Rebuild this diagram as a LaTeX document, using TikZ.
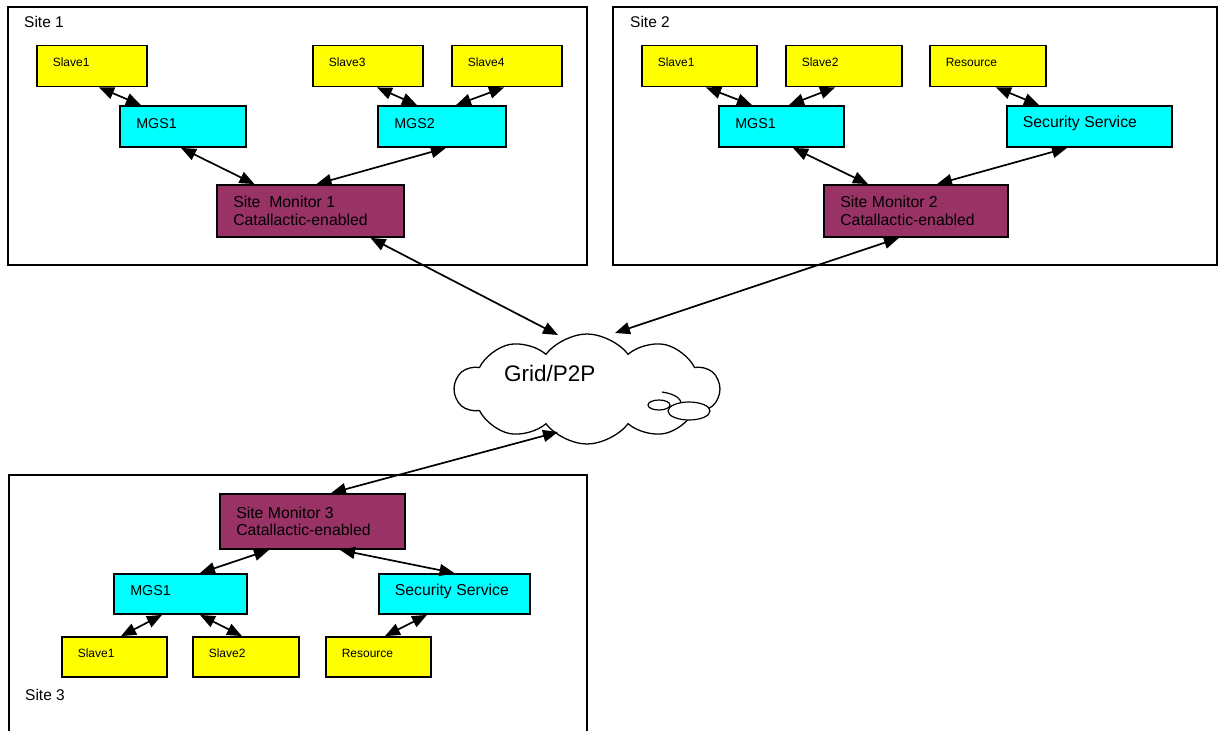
\documentclass[tikz,border=0pt]{standalone}
\usepackage{fontspec}
\setmainfont{Liberation Sans}
\usetikzlibrary{arrows.meta,shapes.symbols,calc}
\definecolor{slavey}{HTML}{FFFF00}
\definecolor{mgsc}{HTML}{00FFFF}
\definecolor{monc}{HTML}{993366}
\begin{document}
\begin{tikzpicture}[x=1pt,y=-1pt,
  box/.style={draw=black, line width=1.8pt, rectangle, inner sep=0pt},
  slave/.style={box, fill=slavey, minimum height=41pt},
  mgs/.style={box, fill=mgsc, minimum height=41pt},
  mon/.style={box, fill=monc, minimum height=52pt},
  sitebox/.style={draw=black, line width=1.5pt},
  sitelab/.style={anchor=west, inner sep=0pt, font=\fontsize{15.5}{18}\selectfont},
  link/.style={line width=1.7pt, {Triangle[length=15pt,width=12pt]}-{Triangle[length=15pt,width=12pt]}},
  ts/.style={anchor=west, xshift=16.5pt, yshift=4pt, inner sep=0pt, font=\fontsize{12}{14}\selectfont},
  tm/.style={anchor=west, xshift=17pt, yshift=3pt, inner sep=0pt, font=\fontsize{14.3}{16}\selectfont},
  tl/.style={anchor=west, xshift=16.5pt, yshift=3pt, inner sep=0pt, font=\fontsize{15.8}{17}\selectfont},
  tmon/.style={anchor=west, xshift=17pt, yshift=0pt, inner sep=0pt, align=left, font=\fontsize{15.8}{17.5}\selectfont}
]
\useasboundingbox (0,0) rectangle (1218,731);
\fill[white] (0,0) rectangle (1218,731);

% site frames
\draw[sitebox] (8,7) rectangle (587,265);
\draw[sitebox] (613,7) rectangle (1217,265);
\draw[sitebox] (9,731) -- (9,475) -- (587,475) -- (587,731);
\node[sitelab] (lab1) at (24,22) {Site 1};
\node[sitelab] (lab2) at (630,22) {Site 2};
\node[sitelab] (lab3) at (25,695) {Site 3};

% cloud
\node[cloud, draw, line width=1.3pt, fill=white, cloud puffs=10, cloud puff arc=105, cloud ignores aspect,
      minimum width=264pt, minimum height=110pt, inner sep=0pt] (grid) at (587,389) {};
\draw[line width=1.2pt] (662,392) .. controls (676,394) and (684,400) .. (680,407);
\draw[line width=1.2pt, fill=white] (689,411) ellipse (21 and 9);
\draw[line width=1.2pt, fill=white] (659,405) ellipse (11 and 5);
\node[anchor=west, inner sep=0pt, font=\fontsize{22.5}{26}\selectfont] (gridlab) at (504,373) {Grid/P2P};
\coordinate (g1) at ($(grid.center)+(-29,-54)$);
\coordinate (g2) at ($(grid.center)+(28,-56)$);
\coordinate (g3) at ($(grid.center)+(-29,43)$);

% Site 1
\node[slave, minimum width=110pt, label={[ts]west:Slave1}] (s1a) at (92,66) {};
\node[slave, minimum width=110pt, label={[ts]west:Slave3}] (s1c) at (368,66) {};
\node[slave, minimum width=110pt, label={[ts]west:Slave4}] (s1d) at (507,66) {};
\node[mgs, minimum width=126pt, label={[tm]west:MGS1}] (m1a) at (183,126.5) {};
\node[mgs, minimum width=128pt, label={[tm]west:MGS2}] (m1b) at (442,126.5) {};
\node[mon, minimum width=187pt, label={[tmon]west:Site\ \ Monitor 1\\Catallactic-enabled}] (sm1) at (310.5,211) {};

\draw[link] ([xshift=7]s1a.south) -- ([xshift=-42]m1a.north);
\draw[link] ([xshift=9]s1c.south) -- ([xshift=-25]m1b.north);
\draw[link] ([xshift=-3]s1d.south) -- ([xshift=14]m1b.north);
\draw[link] ([xshift=-2]m1a.south) -- ([xshift=-56]sm1.north);
\draw[link] ([xshift=4]m1b.south) -- ([xshift=6]sm1.north);
\draw[link] ([xshift=60]sm1.south) -- (g1);

% Site 2
\node[slave, minimum width=115pt, label={[ts]west:Slave1}] (s2a) at (699.5,66) {};
\node[slave, minimum width=116pt, label={[ts]west:Slave2}] (s2b) at (844,66) {};
\node[slave, minimum width=116pt, label={[ts]west:Resource}] (s2r) at (988,66) {};
\node[mgs, minimum width=125pt, label={[tm]west:MGS1}] (m2a) at (781.5,126.5) {};
\node[mgs, minimum width=165pt, label={[tl]west:Security Service}] (sec2) at (1089.5,126.5) {};
\node[mon, minimum width=184pt, label={[tmon]west:Site Monitor 2\\Catallactic-enabled}] (sm2) at (916,211) {};

\draw[link] ([xshift=6.5]s2a.south) -- ([xshift=-29.5]m2a.north);
\draw[link] ([xshift=-9]s2b.south) -- ([xshift=7.5]m2a.north);
\draw[link] ([xshift=8]s2r.south) -- ([xshift=-50.5]sec2.north);
\draw[link] ([xshift=11.5]m2a.south) -- ([xshift=-48]sm2.north);
\draw[link] ([xshift=-22.5]sec2.south) -- ([xshift=21]sm2.north);
\draw[link] ([xshift=-17]sm2.south) -- (g2);

% Site 3
\node[mon, minimum width=185pt, minimum height=55pt, label={[tmon]west:Site Monitor 3\\Catallactic-enabled}] (sm3) at (312.5,521.5) {};
\node[mgs, minimum width=133pt, minimum height=40pt, label={[tm]west:MGS1}] (m3a) at (180.5,594) {};
\node[mgs, minimum width=151pt, minimum height=40pt, label={[tl]west:Security Service}] (sec3) at (454.5,594) {};
\node[slave, minimum width=105pt, minimum height=40pt, label={[ts]west:Slave1}] (s3a) at (114.5,657) {};
\node[slave, minimum width=106pt, minimum height=40pt, label={[ts]west:Slave2}] (s3b) at (246,657) {};
\node[slave, minimum width=105pt, minimum height=40pt, label={[ts]west:Resource}] (s3r) at (378.5,657) {};

\draw[link] ([xshift=18.5]sm3.north) -- (g3);
\draw[link] ([xshift=-43.5]sm3.south) -- ([xshift=19.5]m3a.north);
\draw[link] ([xshift=27.5]sm3.south) -- ([xshift=0]sec3.north);
\draw[link] ([xshift=-18.5]m3a.south) -- ([xshift=6.5]s3a.north);
\draw[link] ([xshift=19.5]m3a.south) -- ([xshift=-4]s3b.north);
\draw[link] ([xshift=-27.5]sec3.south) -- ([xshift=6.5]s3r.north);
\end{tikzpicture}
\end{document}
